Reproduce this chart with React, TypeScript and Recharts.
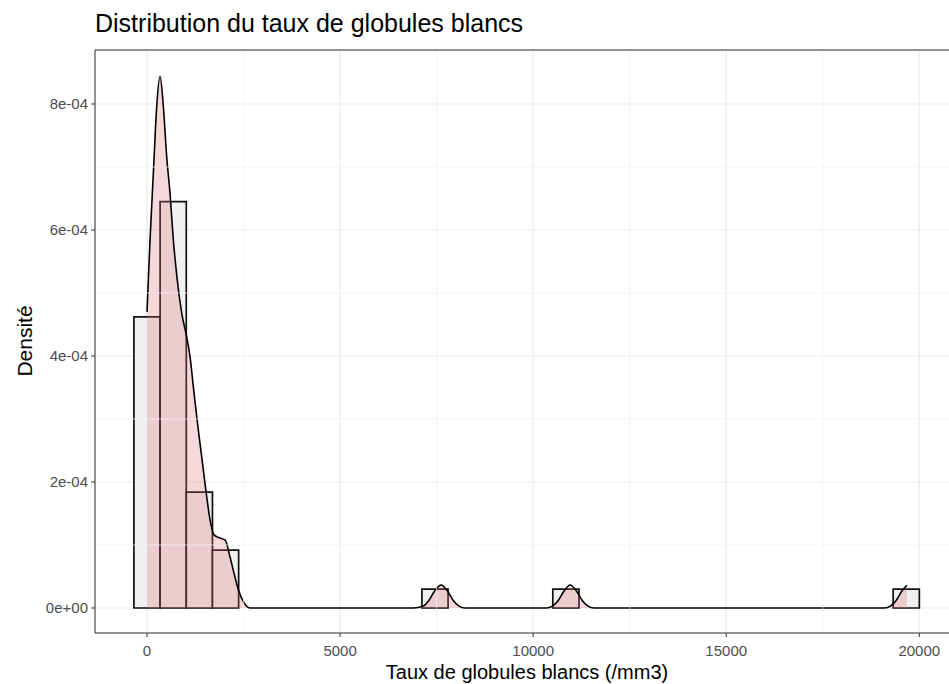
import {
  ComposedChart,
  Area,
  XAxis,
  YAxis,
  CartesianGrid,
  ReferenceArea,
  ReferenceLine,
} from "recharts";

// histogramme (30 classes, largeur ~678)
const binStart = [-339, 339, 1017, 1695, 7119, 10509, 19323];
const binEnd = [339, 1017, 1695, 2373, 7797, 11187, 20001];
const binDensity = [4.62e-4, 6.45e-4, 1.84e-4, 9.2e-5, 3.0e-5, 3.0e-5, 3.0e-5];

// courbe de densité
const densX = [
  0, 78, 164, 251, 337, 423, 510, 596, 682, 785, 899, 1028, 1114, 1200, 1287,
  1373, 1459, 1545, 1632, 1736, 1890, 2020, 2150, 2253, 2366, 2495, 2668, 3500,
  5000, 6900, 7150, 7300, 7450, 7617, 7780, 7930, 8080, 8230, 9500, 10350,
  10500, 10650, 10800, 10958, 11120, 11270, 11420, 11570, 15000, 19100, 19250,
  19400, 19550, 19680,
];
const densY = [
  4.7e-4, 5.84e-4, 6.9e-4, 7.96e-4, 8.44e-4, 7.96e-4, 7.16e-4, 6.58e-4, 5.84e-4,
  5.2e-4, 4.68e-4, 4.3e-4, 3.99e-4, 3.51e-4, 3.04e-4, 2.61e-4, 2.19e-4, 1.77e-4,
  1.4e-4, 1.16e-4, 1.11e-4, 1.08e-4, 8.1e-5, 5.5e-5, 2.9e-5, 1.0e-5, 0, 0, 0, 0,
  3e-6, 1.2e-5, 2.7e-5, 3.65e-5, 2.7e-5, 1.2e-5, 3e-6, 0, 0, 0, 3e-6, 1.2e-5,
  2.7e-5, 3.65e-5, 2.7e-5, 1.2e-5, 3e-6, 0, 0, 0, 3e-6, 1.2e-5, 2.7e-5, 3.6e-5,
];

const xTicks = [0, 5000, 10000, 15000, 20000];
const xMinor = [2500, 7500, 12500, 17500];
const yTicks = [0, 2e-4, 4e-4, 6e-4, 8e-4];
const yMinor = [1e-4, 3e-4, 5e-4, 7e-4];

const X_DOMAIN: [number, number] = [-1347, 21028];
const Y_DOMAIN: [number, number] = [-3.97e-5, 8.857e-4];

const FONT = '"Liberation Sans", Arial, Helvetica, sans-serif';

const fmtY = (v: number) => (v === 0 ? "0e+00" : `${Math.round(v * 1e4)}e-04`);

export default function App() {
  const data = densX.map((x, i) => ({ x, d: densY[i] }));

  return (
    <div
      style={{
        position: "absolute",
        left: 0,
        top: 0,
        width: 949,
        height: 684,
        overflow: "hidden",
        background: "#fff",
        fontFamily: FONT,
      }}
    >
      <div
        style={{
          position: "absolute",
          left: 95,
          top: 11,
          fontSize: 25,
          lineHeight: 1,
          color: "#000",
          whiteSpace: "nowrap",
        }}
      >
        Distribution du taux de globules blancs
      </div>
      <ComposedChart
        width={965}
        height={684}
        data={data}
        margin={{ top: 50, right: 6, left: 0, bottom: 0 }}
      >
        <CartesianGrid stroke="#ebebeb" strokeWidth={1.2} />
        {xMinor.map((v) => (
          <ReferenceLine key={`xm${v}`} x={v} stroke="#efefef" strokeWidth={0.7} />
        ))}
        {yMinor.map((v) => (
          <ReferenceLine key={`ym${v}`} y={v} stroke="#efefef" strokeWidth={0.7} />
        ))}
        <XAxis
          dataKey="x"
          type="number"
          domain={X_DOMAIN}
          allowDataOverflow
          ticks={xTicks}
          height={51}
          tickSize={4}
          tickMargin={8}
          stroke="#333"
          tick={{ fontSize: 15, fill: "#4d4d4d", fontFamily: FONT }}
        />
        <YAxis
          type="number"
          domain={Y_DOMAIN}
          allowDataOverflow
          ticks={yTicks}
          width={95}
          tickSize={4}
          tickMargin={3}
          stroke="#333"
          tickFormatter={fmtY}
          tick={{ fontSize: 15, fill: "#4d4d4d", fontFamily: FONT }}
        />
        {binStart.map((s, i) => (
          <ReferenceArea
            key={`b${i}`}
            x1={s}
            x2={binEnd[i]}
            y1={0}
            y2={binDensity[i]}
            fill="#f0f0f0"
            fillOpacity={1}
            stroke="#111"
            strokeWidth={1.7}
          />
        ))}
        <Area
          dataKey="d"
          type="monotone"
          baseValue={0}
          stroke="#000"
          strokeWidth={1.6}
          fill="#dd6a78"
          fillOpacity={0.27}
          dot={false}
          activeDot={false}
          isAnimationActive={false}
        />
        <ReferenceLine y={Y_DOMAIN[1]} stroke="#333" strokeWidth={1} />
      </ComposedChart>
      <div
        style={{
          position: "absolute",
          left: 527,
          top: 662,
          transform: "translateX(-50%)",
          fontSize: 20,
          lineHeight: 1,
          color: "#000",
          whiteSpace: "nowrap",
        }}
      >
        Taux de globules blancs (/mm3)
      </div>
      <div
        style={{
          position: "absolute",
          left: 24,
          top: 341,
          transform: "translate(-50%, -50%) rotate(-90deg)",
          fontSize: 21,
          lineHeight: 1,
          color: "#000",
          whiteSpace: "nowrap",
        }}
      >
        Densité
      </div>
    </div>
  );
}
